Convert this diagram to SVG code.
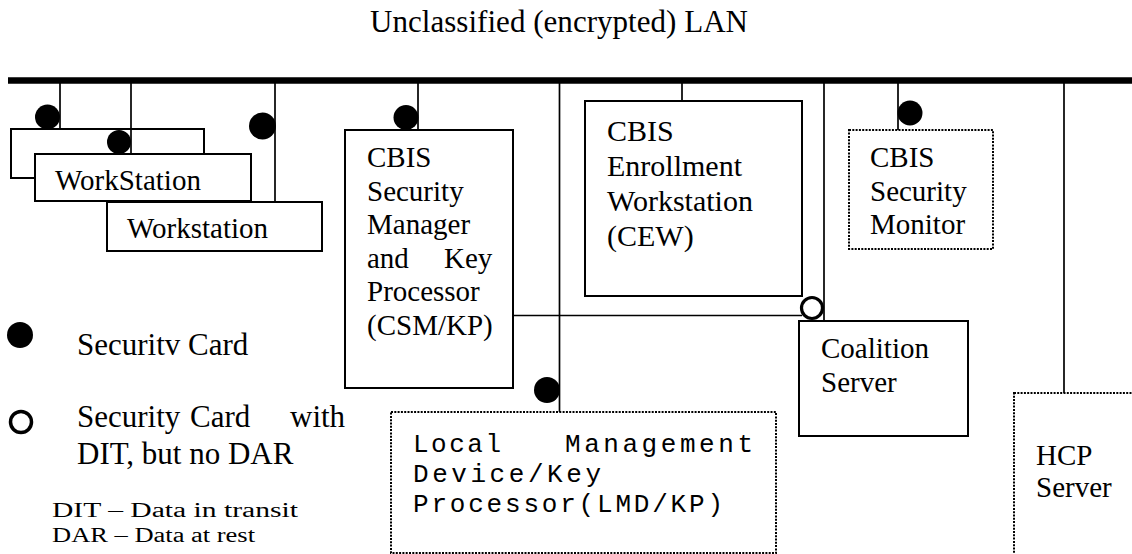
<svg xmlns="http://www.w3.org/2000/svg" width="1132" height="554" viewBox="0 0 1132 554">
<style>
.t{font-family:"Liberation Serif","Times New Roman",serif;font-size:29px;fill:#000}
.m{font-family:"Liberation Mono","Courier New",monospace;font-size:26px;fill:#000}
.box{fill:#fff;stroke:#000;stroke-width:2}
.dot{fill:#fff;stroke:#000;stroke-width:2;stroke-dasharray:2 1.3}
.ln{stroke:#000;stroke-width:1.7;fill:none}
.card{fill:#000}
.open{fill:#fff;stroke:#000;stroke-width:3.2}
</style>
<rect width="1132" height="554" fill="#fff"/>
<g id="title"><text class="t" x="370" y="32" style="font-size:31px" textLength="378">Unclassified (encrypted) LAN</text></g>
<g id="lan"><line x1="8" y1="80.5" x2="1132" y2="80.5" stroke="#000" stroke-width="6.5"/></g>
<g id="workstation-back"><rect class="box" x="11" y="129" width="193" height="49"/></g>
<g id="connectors">
<line class="ln" x1="60" y1="80" x2="60" y2="129"/>
<line class="ln" x1="131" y1="80" x2="131" y2="154"/>
<line class="ln" x1="275" y1="80" x2="275" y2="202"/>
<line class="ln" x1="418" y1="80" x2="418" y2="130"/>
<line class="ln" x1="559.5" y1="80" x2="559.5" y2="412"/>
<line class="ln" x1="682" y1="80" x2="682" y2="101"/>
<line class="ln" x1="824" y1="80" x2="824" y2="321"/>
<line class="ln" x1="898" y1="80" x2="898" y2="130"/>
<line class="ln" x1="1064" y1="80" x2="1064" y2="393"/>
<line class="ln" x1="513" y1="315.5" x2="802" y2="315.5"/>
</g>
<g id="workstation-1"><rect class="box" x="35" y="154" width="216" height="47"/><text class="t" x="55" y="190">WorkStation</text></g>
<g id="workstation-2"><rect class="box" x="107" y="202" width="215" height="49"/><text class="t" x="127" y="238">Workstation</text></g>
<g id="csm-kp"><rect class="box" x="345" y="130" width="168" height="258"/>
<text class="t" x="367" y="167">CBIS</text>
<text class="t" x="367" y="200.5">Security</text>
<text class="t" x="367" y="234">Manager</text>
<text class="t" y="267.5"><tspan x="367">and</tspan><tspan x="444">Key</tspan></text>
<text class="t" x="367" y="301">Processor</text>
<text class="t" x="367" y="334.5">(CSM/KP)</text></g>
<g id="cew"><rect class="box" x="585" y="101" width="217" height="195"/>
<text class="t" x="607" y="141" style="font-size:30px">CBIS</text>
<text class="t" x="607" y="176" style="font-size:30px">Enrollment</text>
<text class="t" x="607" y="211" style="font-size:30px">Workstation</text>
<text class="t" x="607" y="246" style="font-size:30px">(CEW)</text></g>
<g id="security-monitor"><rect class="dot" x="849" y="130" width="144" height="119"/>
<text class="t" x="870" y="167">CBIS</text>
<text class="t" x="870" y="200.5">Security</text>
<text class="t" x="870" y="234">Monitor</text></g>
<g id="coalition-server"><rect class="box" x="799" y="321" width="169" height="115"/>
<text class="t" x="821" y="358">Coalition</text>
<text class="t" x="821" y="392">Server</text></g>
<g id="hcp-server"><rect class="dot" x="1014" y="393" width="200" height="200"/>
<text class="t" x="1036" y="465">HCP</text>
<text class="t" x="1036" y="497">Server</text></g>
<g id="lmd-kp"><rect class="dot" x="391" y="412" width="385" height="141"/>
<text class="m" x="413" y="452" textLength="88">Local</text>
<text class="m" x="565" y="452" textLength="188">Management</text>
<text class="m" x="413" y="482" textLength="188">Device/Key</text>
<text class="m" x="413" y="512" textLength="310">Processor(LMD/KP)</text></g>
<g id="cards">
<circle class="card" cx="47.5" cy="117" r="12.5"/>
<circle class="card" cx="119" cy="142" r="12"/>
<circle class="card" cx="262.5" cy="126" r="13.5"/>
<circle class="card" cx="406" cy="117.5" r="12.5"/>
<circle class="card" cx="547" cy="390" r="13"/>
<circle class="card" cx="910" cy="113" r="12.5"/>
<circle class="open" cx="812" cy="308" r="10.5"/>
</g>
<g id="legend">
<circle class="card" cx="20" cy="335" r="13"/>
<text class="t" x="77" y="355" style="font-size:31px">Securitv Card</text>
<circle class="open" cx="21" cy="422" r="10.5" style="stroke-width:3.5"/>
<text class="t" y="427" style="font-size:31px"><tspan x="77">Security</tspan><tspan x="190">Card</tspan><tspan x="290">with</tspan></text>
<text class="t" x="77" y="464" style="font-size:31px">DIT, but no DAR</text>
<text class="t" x="52" y="517" style="font-size:20px" textLength="246" lengthAdjust="spacingAndGlyphs">DIT – Data in transit</text>
<text class="t" x="52" y="542" style="font-size:20px" textLength="203" lengthAdjust="spacingAndGlyphs">DAR – Data at rest</text>
</g>
</svg>
